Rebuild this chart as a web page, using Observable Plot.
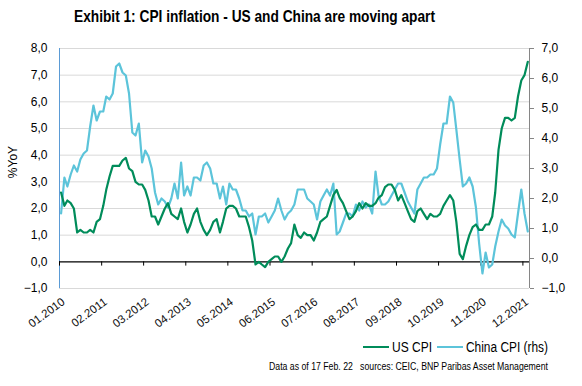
<!DOCTYPE html>
<html>
<head>
<meta charset="utf-8">
<script src="https://cdn.jsdelivr.net/npm/d3@7"></script>
<script src="https://cdn.jsdelivr.net/npm/@observablehq/plot@0.6"></script>
<style>
  html, body { margin: 0; padding: 0; background: #fff; }
  #wrap { position: relative; width: 582px; height: 386px; overflow: hidden; font-family: "Liberation Sans", Arial, sans-serif; color: #000; }
  #chart { position: absolute; left: 0; top: 0; }
  .t { position: absolute; white-space: pre; transform-origin: 0 50%; line-height: 1; }
  .title { left: 74px; top: 8px; font-weight: bold; font-size: 17px; }
  .lg { top: 340px; font-size: 14px; }
  .sw { position: absolute; top: 346px; width: 26px; height: 0; border-top: 2.5px solid; }
  .foot { left: 269px; top: 362px; font-size: 10px; }
  .ylab { position: absolute; left: 13px; top: 162px; transform: translate(-50%, -50%) rotate(-90deg); font-size: 12px; white-space: nowrap; line-height: 1; }
</style>
</head>
<body>
<div id="wrap">
  <div id="chart"></div>
  <div class="t title" data-w="361">Exhibit 1: CPI inflation - US and China are moving apart</div>
  <div class="ylab">%YoY</div>
  <span class="sw" style="left:363px;border-color:#008C5A"></span>
  <div class="t lg" style="left:392px" data-w="40">US CPI</div>
  <span class="sw" style="left:437px;border-color:#5CC4DA"></span>
  <div class="t lg" style="left:466px" data-w="82">China CPI (rhs)</div>
  <div class="t foot" data-w="279">Data as of 17 Feb. 22   sources: CEIC, BNP Paribas Asset Management</div>
</div>
<script>
// Monthly data, 01.2010 .. 01.2022
const startYear = 2010, startMonth = 0;
const usCPI = [
  2.6, 2.1, 2.3, 2.2, 2.0, 1.1, 1.2, 1.1, 1.1, 1.2, 1.1, 1.5,
  1.6, 2.1, 2.7, 3.2, 3.6, 3.6, 3.6, 3.8, 3.9, 3.5, 3.4, 3.0,
  2.9, 2.9, 2.7, 2.3, 1.7, 1.7, 1.4, 1.7, 2.0, 2.2, 1.8, 1.7,
  1.6, 2.0, 1.5, 1.1, 1.4, 1.8, 2.0, 1.5, 1.2, 1.0, 1.2, 1.5,
  1.6, 1.1, 1.5, 2.0, 2.1, 2.1, 2.0, 1.7, 1.7, 1.7, 1.3, 0.8,
  -0.1, 0.0, -0.1, -0.2, 0.0, 0.1, 0.2, 0.2, 0.0, 0.2, 0.5, 0.7,
  1.4, 1.0, 0.9, 1.1, 1.0, 1.0, 0.8, 1.1, 1.5, 1.6, 1.7, 2.1,
  2.5, 2.7, 2.4, 2.2, 1.9, 1.6, 1.7, 1.9, 2.2, 2.0, 2.2, 2.1,
  2.1, 2.2, 2.4, 2.5, 2.8, 2.9, 2.9, 2.7, 2.3, 2.5, 2.2, 1.9,
  1.6, 1.5, 1.9, 2.0, 1.8, 1.6, 1.8, 1.7, 1.7, 1.8, 2.1, 2.3,
  2.5, 2.3, 1.5, 0.3, 0.1, 0.6, 1.0, 1.3, 1.4, 1.2, 1.2, 1.4,
  1.4, 1.7, 2.6, 4.2, 5.0, 5.4, 5.4, 5.3, 5.4, 6.2, 6.8, 7.0,
  7.5
];
const chinaCPI = [
  1.5, 2.7, 2.4, 2.8, 3.1, 2.9, 3.3, 3.5, 3.6, 4.4, 5.1, 4.6,
  4.9, 4.9, 5.4, 5.3, 5.5, 6.4, 6.5, 6.2, 6.1, 5.5, 4.2, 4.1,
  4.5, 3.2, 3.6, 3.4, 3.0, 2.2, 1.8, 2.0, 1.9, 1.7, 2.0, 2.5,
  2.0, 3.2, 2.1, 2.4, 2.1, 2.7, 2.7, 2.6, 3.1, 3.2, 3.0, 2.5,
  2.5, 2.0, 2.4, 1.8, 2.5, 2.3, 2.3, 2.0, 1.6, 1.6, 1.4, 1.5,
  0.8, 1.4, 1.4, 1.5, 1.2, 1.4, 1.6, 2.0, 1.6, 1.3, 1.5, 1.6,
  1.8, 2.3, 2.3, 2.3, 2.0, 1.9, 1.8, 1.3, 1.9, 2.1, 2.3, 2.1,
  2.5, 0.8, 0.9, 1.2, 1.5, 1.5, 1.4, 1.8, 1.6, 1.9, 1.7, 1.8,
  1.5, 2.9, 2.1, 1.8, 1.8, 1.9, 2.1, 2.3, 2.5, 2.5, 2.2, 1.9,
  1.7, 1.5, 2.3, 2.5, 2.7, 2.7, 2.8, 2.8, 3.0, 3.8, 4.5, 4.5,
  5.4, 5.2, 4.3, 3.3, 2.4, 2.5, 2.7, 2.4, 1.7, 0.5, -0.5, 0.2,
  -0.3, -0.2, 0.4, 0.9, 1.3, 1.1, 1.0, 0.8, 0.7, 1.5, 2.3, 1.5,
  0.9
];
const leftTicks = [-1, 0, 1, 2, 3, 4, 5, 6, 7, 8];
const rightTicks = [-1, 0, 1, 2, 3, 4, 5, 6, 7];
const xTickMonths = ["01.2010","02.2011","03.2012","04.2013","05.2014","06.2015","07.2016","08.2017","09.2018","10.2019","11.2020","12.2021"];

const leftDomain = [-1, 8], rightDomain = [-1, 7];
const toLeft = v => leftDomain[0] + (v - rightDomain[0]) * (leftDomain[1] - leftDomain[0]) / (rightDomain[1] - rightDomain[0]);
const fromLeft = u => rightDomain[0] + (u - leftDomain[0]) * (rightDomain[1] - rightDomain[0]) / (leftDomain[1] - leftDomain[0]);
const fmt = v => d3.format(".1f")(Math.abs(v) < 1e-9 ? 0 : v).replace(".", ",");

const monthDate = (i, day) => new Date(Date.UTC(startYear, startMonth + i, day));
const us = usCPI.map((v, i) => ({date: monthDate(i, 16), v}));
const cn = chinaCPI.map((v, i) => ({date: monthDate(i, 16), v}));
const xDomain = [monthDate(0, 1), monthDate(usCPI.length, 1)];
const tickDates = xTickMonths.map(s => { const [m, y] = s.split("."); return new Date(Date.UTC(+y, +m - 1, 1)); });

const green = "#008C5A", blue = "#5CC4DA";

const chart = Plot.plot({
  width: 582, height: 386,
  marginLeft: 59, marginRight: 53, marginTop: 48, marginBottom: 98,
  style: {fontFamily: '"Liberation Sans", Arial, sans-serif', fontSize: "12px", background: "transparent", color: "#000"},
  x: {type: "utc", domain: xDomain},
  y: {domain: leftDomain},
  marks: [
    Plot.ruleY(leftTicks.filter(d => d !== 0), {stroke: "#d9d9d9", strokeWidth: 1}),
    Plot.ruleX([xDomain[0]], {stroke: "#5B9BD5", strokeWidth: 1}),
    Plot.ruleX([xDomain[1]], {stroke: "#868686", strokeWidth: 1}),
    Plot.ruleY([0], {stroke: "#000", strokeWidth: 1.2}),
    Plot.ruleX(tickDates, {y1: 0, y2: -0.16, stroke: "#000", strokeWidth: 1}),
    Plot.line(cn, {x: "date", y: d => toLeft(d.v), stroke: blue, strokeWidth: 2.2}),
    Plot.line(us, {x: "date", y: "v", stroke: green, strokeWidth: 2.2}),
    Plot.axisY({anchor: "left", ticks: leftTicks, tickFormat: fmt, tickSize: 0, tickPadding: 12, label: null, fontSize: 12}),
    Plot.axisY({anchor: "right", ticks: rightTicks.map(toLeft), tickFormat: d => fmt(fromLeft(d)), tickSize: 4, tickPadding: 8, label: null, stroke: "#868686", fontSize: 12}),
    Plot.axisX({anchor: "bottom", ticks: tickDates, tickFormat: d3.utcFormat("%m.%Y"), tickRotate: -36, tickSize: 0, tickPadding: 12, label: null, fontSize: 11.5, dx: 4, fill: "#111"})
  ]
});
document.getElementById("chart").appendChild(chart);

// fit HTML texts to the measured widths of the reference
document.querySelectorAll("[data-w]").forEach(el => {
  const w = el.getBoundingClientRect().width;
  el.style.transform = `scaleX(${(+el.dataset.w / w).toFixed(4)})`;
});
</script>
</body>
</html>
